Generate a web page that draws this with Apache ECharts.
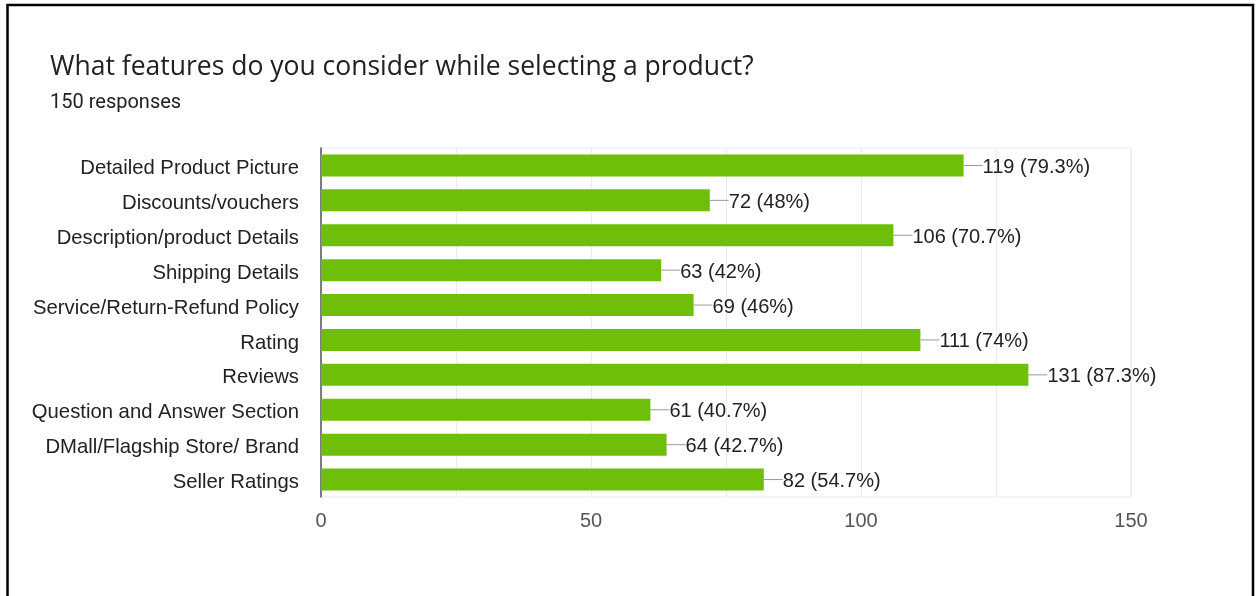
<!DOCTYPE html>
<html>
<head>
<meta charset="utf-8">
<script src="https://cdn.jsdelivr.net/npm/echarts@6/dist/echarts.min.js"></script>
<style>
html,body{margin:0;padding:0;background:#fff;}
#c{width:1258px;height:596px;}
</style>
</head>
<body>
<div id="c"></div>
<script>
const categories = [
  "Detailed Product Picture",
  "Discounts/vouchers",
  "Description/product Details",
  "Shipping Details",
  "Service/Return-Refund Policy",
  "Rating",
  "Reviews",
  "Question and Answer Section",
  "DMall/Flagship Store/ Brand",
  "Seller Ratings"
];
const counts = [119, 72, 106, 63, 69, 111, 131, 61, 64, 82];
const percents = ["79.3%", "48%", "70.7%", "42%", "46%", "74%", "87.3%", "40.7%", "42.7%", "54.7%"];
const xTicks = [0, 50, 100, 150];
const titleText = "What features do you consider while selecting a product?";
const subtitleText = "150 responses";

const FONT = '"Liberation Sans", Arial, sans-serif';
const chart = echarts.init(document.getElementById('c'), null, {renderer: 'canvas'});
chart.setOption({
  backgroundColor: '#fff',
  animation: false,
  graphic: [{
    type: 'rect', silent: true, z: 100,
    shape: {x: 7.5, y: 5, width: 1245.5, height: 700},
    style: {fill: 'none', stroke: '#000', lineWidth: 2.5}
  }],
  title: [{
    text: titleText,
    left: 45, top: 49,
    textStyle: {fontFamily: 'Open Sans', fontSize: 26.5, fontWeight: 'normal', color: '#202124'}
  }, {
    text: subtitleText,
    left: 45, top: 88,
    textStyle: {fontFamily: 'Roboto', fontSize: 20, fontWeight: 'normal', color: '#202124'}
  }],
  grid: {
    left: 321, right: 127, top: 148, bottom: 99,
    show: true, borderColor: '#ebebeb', borderWidth: 1, containLabel: false
  },
  xAxis: {
    type: 'value', min: 0, max: 150, interval: 25,
    axisLine: {show: false}, axisTick: {show: false},
    splitLine: {show: true, lineStyle: {color: '#ebebeb', width: 1}},
    axisLabel: {
      margin: 14, fontFamily: FONT, fontSize: 20, color: '#555',
      formatter: v => xTicks.includes(v) ? String(v) : ''
    }
  },
  yAxis: {
    type: 'category', data: categories, inverse: true,
    axisLine: {show: true, lineStyle: {color: '#555', width: 1.5}},
    axisTick: {show: false},
    axisLabel: {
      margin: 22, fontFamily: FONT, fontSize: 20.3, color: '#222',
      formatter: v => '{c|' + v + '}',
      rich: {c: {fontFamily: FONT, fontSize: 20.3, color: '#222', padding: [6, 0, 0, 0]}}
    }
  },
  series: [{
    type: 'bar',
    data: counts,
    barWidth: '63%',
    itemStyle: {color: '#6fbf0a'},
    label: {
      show: true, position: 'right', distance: 0,
      formatter: p => '{l|}{t|' + counts[p.dataIndex] + ' (' + percents[p.dataIndex] + ')}',
      fontFamily: FONT, fontSize: 20, color: '#222',
      rich: {
        l: {width: 19, height: 1, backgroundColor: '#999', padding: 0},
        t: {fontFamily: FONT, fontSize: 20, color: '#222', padding: [4, 0, 0, 0]}
      }
    }
  }]
});
</script>
</body>
</html>
